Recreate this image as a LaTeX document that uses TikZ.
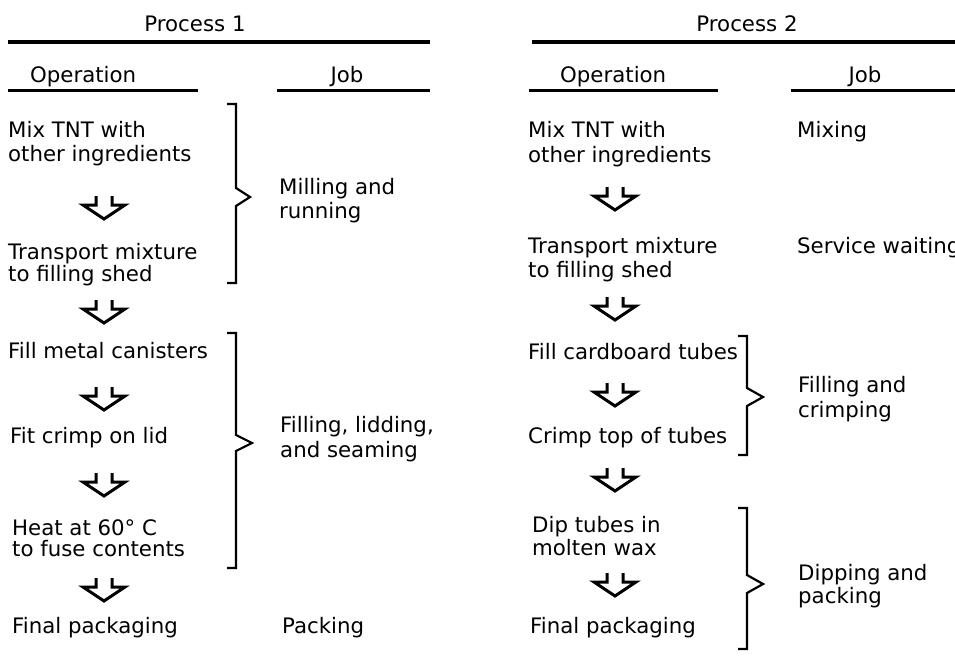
\documentclass[tikz,border=0pt]{standalone}
\usepackage{fontspec}
\setmainfont{DejaVu Sans}
\begin{document}
\begin{tikzpicture}[x=1pt,y=-1pt,
  txt/.style={anchor=base west,inner sep=0pt,font=\fontsize{21.3}{24}\selectfont},
  hdr/.style={anchor=base,inner sep=0pt,font=\fontsize{21.3}{24}\selectfont},
  rulethick/.style={line width=3.3pt},
  rulethin/.style={line width=3pt},
  brk/.style={line width=2.2pt},
  dnarrow/.pic={\draw[line width=3pt,line join=miter] (-8,0) -- (-8,9) -- (-21,9) -- (0,23) -- (21,9) -- (8,9) -- (8,0);}
]
\useasboundingbox[fill=white] (0,0) rectangle (955,659);

% ---------- Process 1 header ----------
\node[hdr] (p1) at (195,31) {Process 1};
\draw[rulethick] (8,42) -- (430,42);
\node[txt] (op1) at (30,82) {Operation};
\node[hdr] (job1) at (347,82) {Job};
\draw[rulethin] (8,90) -- (198,90);
\draw[rulethin] (277,90) -- (430,90);

% ---------- Process 1 operations ----------
\node[txt] (a1) at (8,137) {Mix TNT with};
\node[txt] (a1b) at (8,161) {other ingredients};
\pic at (104,196) {dnarrow};
\node[txt] (a2) at (8,259) {Transport mixture};
\node[txt] (a2b) at (8,281) {to filling shed};
\pic at (104,300) {dnarrow};
\node[txt] (a3) at (8,358) {Fill metal canisters};
\pic at (104,387) {dnarrow};
\node[txt] (a4) at (10,443) {Fit crimp on lid};
\pic at (104,473) {dnarrow};
\node[txt] (a5) at (12,535) {Heat at 60° C};
\node[txt] (a5b) at (12,556) {to fuse contents};
\pic at (104,578) {dnarrow};
\node[txt] (a6) at (12,633) {Final packaging};

% brackets process 1
\draw[brk] (227,104) -- (236,104) -- (236,188) -- (250,197) -- (236,206) -- (236,283) -- (227,283);
\draw[brk] (227,333) -- (236,333) -- (236,435) -- (252,443) -- (236,451) -- (236,568) -- (227,568);

% jobs process 1
\node[txt] (j1) at (279,194) {Milling and};
\node[txt] (j1b) at (279,218) {running};
\node[txt] (j2) at (280,432) {Filling, lidding,};
\node[txt] (j2b) at (280,457) {and seaming};
\node[txt] (j3) at (282,633) {Packing};

% ---------- Process 2 header ----------
\node[hdr] (p2) at (747,31) {Process 2};
\draw[rulethick] (532,42) -- (955,42);
\node[txt] (op2) at (560,82) {Operation};
\node[hdr] (job2) at (865,82) {Job};
\draw[rulethin] (529,90) -- (718,90);
\draw[rulethin] (791,90) -- (955,90);

% ---------- Process 2 operations ----------
\node[txt] (b1) at (528,137) {Mix TNT with};
\node[txt] (b1b) at (528,162) {other ingredients};
\pic at (615,187) {dnarrow};
\node[txt] (b2) at (528,253) {Transport mixture};
\node[txt] (b2b) at (528,277) {to filling shed};
\pic at (615,297) {dnarrow};
\node[txt] (b3) at (528,359) {Fill cardboard tubes};
\pic at (615,383) {dnarrow};
\node[txt] (b4) at (528,443) {Crimp top of tubes};
\pic at (615,468) {dnarrow};
\node[txt] (b5) at (532,532) {Dip tubes in};
\node[txt] (b5b) at (532,555) {molten wax};
\pic at (615,573) {dnarrow};
\node[txt] (b6) at (530,633) {Final packaging};

% brackets process 2
\draw[brk] (738,336) -- (747,336) -- (747,388) -- (763,397) -- (747,406) -- (747,455) -- (738,455);
\draw[brk] (738,508) -- (747,508) -- (747,575) -- (763,584) -- (747,593) -- (747,649) -- (738,649);

% jobs process 2
\node[txt] (k1) at (797,137) {Mixing};
\node[txt] (k2) at (797,253) {Service waiting};
\node[txt] (k3) at (798,392) {Filling and};
\node[txt] (k3b) at (798,417) {crimping};
\node[txt] (k4) at (798,580) {Dipping and};
\node[txt] (k4b) at (798,603) {packing};
\end{tikzpicture}
\end{document}
